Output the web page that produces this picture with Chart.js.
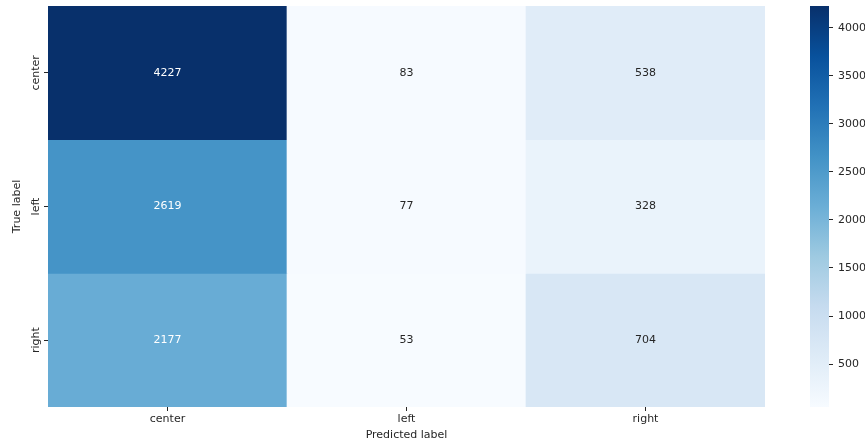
<!DOCTYPE html>
<html>
<head>
<meta charset="utf-8">
<script src="https://cdn.jsdelivr.net/npm/chart.js@4.4.1/dist/chart.umd.min.js"></script>
<style>
  html, body { margin: 0; padding: 0; background: #fff; }
  #wrap { position: relative; width: 865px; height: 444px; }
  #wrap canvas { position: absolute; left: 0; top: 0; }
</style>
</head>
<body>
<div id="wrap">
  <canvas id="heatmap" width="865" height="444"></canvas>
  <canvas id="colorbar" width="865" height="444"></canvas>
</div>
<script>
// confusion matrix: rows = true label, columns = predicted label
const predictedLabels = ['center', 'left', 'right'];
const trueLabels = ['center', 'left', 'right'];
const countsCenter = [4227, 83, 538];
const countsLeft = [2619, 77, 328];
const countsRight = [2177, 53, 704];
const colorbarTicks = [500, 1000, 1500, 2000, 2500, 3000, 3500, 4000];

const rows = [countsCenter, countsLeft, countsRight];
const allCounts = rows.flat();
const vmin = Math.min(...allCounts);
const vmax = Math.max(...allCounts);

// matplotlib "Blues" control colours
const BLUES = [
  [247, 251, 255], [222, 235, 247], [198, 219, 239], [158, 202, 225], [107, 174, 214],
  [66, 146, 198], [33, 113, 181], [8, 81, 156], [8, 48, 107]
];

function blues(t) {
  t = Math.max(0, Math.min(1, t));
  const s = t * 8;
  const i = Math.min(7, Math.floor(s));
  const f = s - i;
  const a = BLUES[i], b = BLUES[i + 1];
  return [0, 1, 2].map(k => Math.round(a[k] + (b[k] - a[k]) * f));
}

function cellRgb(v) {
  return blues((v - vmin) / (vmax - vmin));
}

function rgbStr(c) {
  return 'rgb(' + c.join(',') + ')';
}

// white text on dark cells, dark text on light ones
function textColor(v) {
  const lin = cellRgb(v).map(c => {
    c = c / 255;
    return c <= 0.03928 ? c / 12.92 : Math.pow((c + 0.055) / 1.055, 2.4);
  });
  const lum = 0.2126 * lin[0] + 0.7152 * lin[1] + 0.0722 * lin[2];
  return lum > 0.408 ? '#262626' : '#ffffff';
}

const FONT_SIZE = 11;
Chart.defaults.font.family = 'DejaVu Sans';
Chart.defaults.font.size = FONT_SIZE;
Chart.defaults.color = '#262626';

const datasets = rows.map((counts, r) => ({
  label: trueLabels[r],
  data: counts.map(() => [r, r + 1]),
  counts: counts,
  backgroundColor: counts.map(v => rgbStr(cellRgb(v))),
  borderWidth: 0,
  borderSkipped: false,
  grouped: false,
  barPercentage: 1,
  categoryPercentage: 1,
  yAxisID: 'y',
}));

const cellText = {
  id: 'cellText',
  afterDatasetsDraw(chart) {
    const ctx = chart.ctx;
    ctx.save();
    ctx.font = FONT_SIZE + 'px "DejaVu Sans"';
    ctx.textAlign = 'center';
    ctx.textBaseline = 'middle';
    chart.data.datasets.forEach((ds, i) => {
      chart.getDatasetMeta(i).data.forEach((bar, j) => {
        const p = bar.getProps(['x', 'y', 'base'], true);
        ctx.fillStyle = textColor(ds.counts[j]);
        ctx.fillText(String(ds.counts[j]), p.x, (p.y + p.base) / 2);
      });
    });
    ctx.restore();
  }
};

// row names, rotated like the axis title
const rowLabels = {
  id: 'rowLabels',
  afterDraw(chart) {
    const scale = chart.scales.yLabels;
    const ctx = chart.ctx;
    ctx.save();
    ctx.font = FONT_SIZE + 'px "DejaVu Sans"';
    ctx.fillStyle = '#262626';
    ctx.textAlign = 'center';
    ctx.textBaseline = 'middle';
    trueLabels.forEach((lab, i) => {
      ctx.save();
      ctx.translate(36, scale.getPixelForTick(i));
      ctx.rotate(-Math.PI / 2);
      ctx.fillText(lab, 0, 0);
      ctx.restore();
    });
    ctx.restore();
  }
};

new Chart(document.getElementById('heatmap'), {
  type: 'bar',
  data: { labels: predictedLabels, datasets: datasets },
  options: {
    responsive: false,
    animation: false,
    events: [],
    layout: { padding: { left: 0, right: 100, top: 6, bottom: 0 } },
    plugins: { legend: { display: false }, tooltip: { enabled: false } },
    scales: {
      x: {
        type: 'category',
        grid: { drawOnChartArea: false, offset: false, tickLength: 4, tickColor: '#262626' },
        border: { display: false },
        ticks: { padding: 2, color: '#262626' },
        title: { display: true, text: 'Predicted label', padding: 2, color: '#262626' },
        afterFit(s) { s.height = 37; s.paddingLeft = 0; s.paddingRight = 0; }
      },
      y: {
        type: 'linear',
        min: 0,
        max: 3,
        reverse: true,
        display: false
      },
      yLabels: {
        type: 'category',
        labels: trueLabels,
        position: 'left',
        offset: true,
        grid: { drawOnChartArea: false, offset: false, tickLength: 4, tickColor: '#262626' },
        border: { display: false },
        ticks: { display: false },
        title: { display: true, text: 'True label', padding: 11, color: '#262626' },
        afterFit(s) { s.width = 48; s.paddingTop = 0; s.paddingBottom = 0; }
      }
    }
  },
  plugins: [cellText, rowLabels]
});

new Chart(document.getElementById('colorbar'), {
  type: 'bar',
  data: {
    labels: [''],
    datasets: [{
      data: [[vmin, vmax]],
      borderWidth: 0,
      borderSkipped: false,
      barPercentage: 1,
      categoryPercentage: 1,
      backgroundColor(c) {
        const chart = c.chart;
        if (!chart.chartArea) return 'rgb(247,251,255)';
        const ys = chart.scales.y;
        const g = chart.ctx.createLinearGradient(0, ys.getPixelForValue(vmin), 0, ys.getPixelForValue(vmax));
        BLUES.forEach((col, i) => g.addColorStop(i / 8, rgbStr(col)));
        return g;
      }
    }]
  },
  options: {
    responsive: false,
    animation: false,
    events: [],
    layout: { padding: { left: 810, right: 0, top: 6, bottom: 37 } },
    plugins: { legend: { display: false }, tooltip: { enabled: false } },
    scales: {
      x: { display: false },
      y: {
        position: 'right',
        min: vmin,
        max: vmax,
        afterBuildTicks(s) { s.ticks = colorbarTicks.map(v => ({ value: v })); },
        grid: { drawOnChartArea: false, tickLength: 4, tickColor: '#262626' },
        border: { display: false },
        ticks: { padding: 5, color: '#262626', callback: v => String(v) },
        afterFit(s) { s.width = 36; s.paddingTop = 0; s.paddingBottom = 0; }
      }
    }
  }
});
</script>
</body>
</html>
